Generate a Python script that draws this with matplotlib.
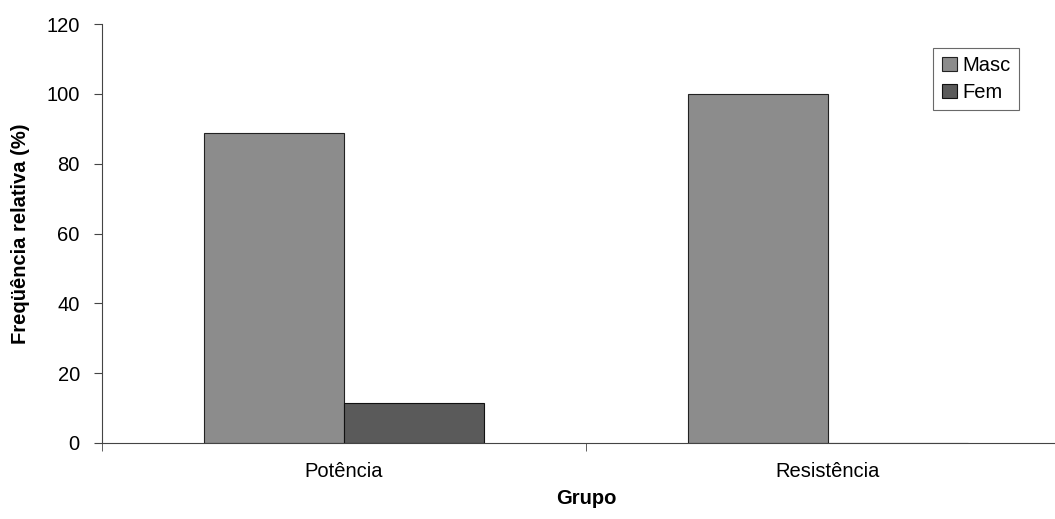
import matplotlib
matplotlib.use("Agg")
import matplotlib.pyplot as plt
import numpy as np

plt.rcParams['font.family'] = ['Liberation Sans', 'DejaVu Sans']

categories = ["Potência", "Resistência"]
masc = [88.9, 100.0]
fem = [11.5, 0.0]
series_names = ["Masc", "Fem"]
yticks = [0, 20, 40, 60, 80, 100, 120]

FS = 14.5

fig = plt.figure(figsize=(10.55, 5.19), dpi=100)
ax = fig.add_axes([102/1055, 76/519, 968/1055, 419/519])

x = np.arange(len(categories))
w = 0.29
ax.bar(x - w/2, masc, w, color="#8c8c8c", edgecolor="#222222", linewidth=0.8, label=series_names[0])
ax.bar(x + w/2, fem, w, color="#5a5a5a", edgecolor="#111111", linewidth=0.8, label=series_names[1])

ax.set_xlim(-0.5, 1.5)
ax.set_ylim(0, 120)
ax.set_yticks(yticks)
ax.set_xticks(x)
ax.set_xticklabels(categories)
ax.set_xticks([-0.5, 0.5, 1.5], minor=True)
ax.tick_params(axis='x', which='major', length=0, pad=14, labelsize=FS)
ax.tick_params(axis='x', which='minor', length=6, direction='out', color='#444444')
ax.tick_params(axis='y', length=6, direction='out', labelsize=FS, pad=10, color='#444444')
for s in ['top', 'right']:
    ax.spines[s].set_visible(False)
ax.spines['left'].set_color('#444444')
ax.spines['bottom'].set_color('#444444')

ax.set_ylabel("Freqüência relativa (%)", fontsize=FS, fontweight='bold')
ax.yaxis.set_label_coords(-72/968, 0.5)
ax.set_xlabel("Grupo", fontsize=FS, fontweight='bold')
ax.xaxis.set_label_coords(0.5, -46/419)

leg = ax.legend(loc='upper right', bbox_to_anchor=(1019/1055, 1 - 48/519), bbox_transform=fig.transFigure,
                borderaxespad=0, frameon=True, fancybox=False,
                edgecolor='#444444', fontsize=FS, handlelength=0.75, handleheight=0.75,
                handletextpad=0.3, borderpad=0.4, labelspacing=0.4)
leg.get_frame().set_linewidth(0.8)

fig.savefig("out.png", dpi=100)
